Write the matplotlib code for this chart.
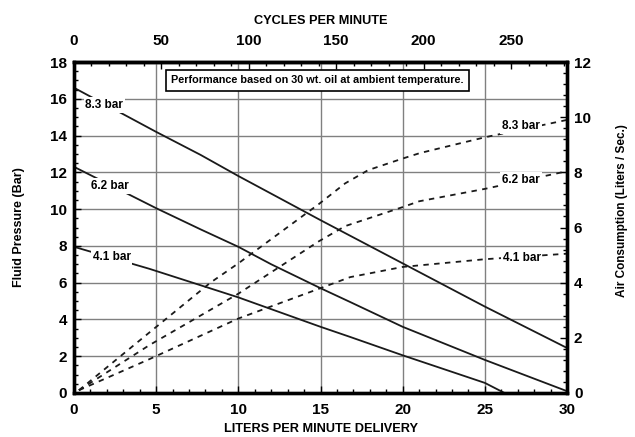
import matplotlib
matplotlib.use("Agg")
import matplotlib.pyplot as plt
from matplotlib.ticker import MultipleLocator

plt.rcParams['font.family'] = ['Liberation Sans Narrow', 'Liberation Sans', 'DejaVu Sans']
plt.rcParams['font.weight'] = 'bold'
plt.rcParams['axes.labelweight'] = 'bold'

# ---- data ----
# Fluid pressure (bar) vs delivery (L/min)
lpm_p83 = [0, 5, 7.7, 10, 15, 20, 25, 30]
pres_83 = [16.6, 14.2, 12.95, 11.8, 9.4, 7.05, 4.7, 2.45]
lpm_p62 = [0, 5, 7.7, 10, 12, 15, 16.8, 20, 25, 30]
pres_62 = [12.3, 10.05, 8.9, 7.95, 7.0, 5.7, 4.95, 3.6, 1.8, 0.1]
lpm_p41 = [0, 4.6, 10, 15, 16.8, 20, 25, 26.2]
pres_41 = [7.95, 6.75, 5.2, 3.6, 3.05, 2.05, 0.55, 0.0]

# Air consumption (L/s) vs delivery (L/min)
lpm_a83 = [0.3, 4.6, 8.3, 10, 14.9, 16.5, 17.9, 20, 21.06, 25, 30]
air_83 = [0.1, 2.2, 4.0, 4.7, 6.85, 7.6, 8.08, 8.5, 8.7, 9.27, 9.9]
lpm_a62 = [0.3, 4.6, 10, 14.9, 16.5, 20, 21, 25, 30]
air_62 = [0.1, 1.74, 3.6, 5.5, 6.05, 6.74, 6.95, 7.4, 8.04]
lpm_a41 = [0.3, 4.6, 10, 15, 16.8, 20, 25, 30]
air_41 = [0.1, 1.23, 2.7, 3.8, 4.2, 4.57, 4.85, 5.05]

series_labels = ["8.3 bar", "6.2 bar", "4.1 bar"]
left_label_pos = [(1.85, 15.66), (2.2, 11.25), (2.3, 7.4)]
right_label_pos = [(27.2, 9.67), (27.2, 7.72), (27.25, 4.89)]

cycles_per_lpm = 9.4
cycle_ticks = [0, 50, 100, 150, 200, 250]
lpm_ticks = [0, 5, 10, 15, 20, 25, 30]
pres_ticks = [0, 2, 4, 6, 8, 10, 12, 14, 16, 18]
air_ticks = [0, 2, 4, 6, 8, 10, 12]
note = "Performance based on 30 wt. oil at ambient temperature."

# ---- figure ----
fig = plt.figure(figsize=(6.35, 4.37), dpi=100)
ax = fig.add_axes([74/635, 1-393/437, 493/635, 331/437])
ax.set_xlim(0, 30)
ax.set_ylim(0, 18)
ax.set_xticks(lpm_ticks)
ax.set_yticks(pres_ticks)
ax.xaxis.set_minor_locator(MultipleLocator(1))
ax.yaxis.set_minor_locator(MultipleLocator(0.5))
ax.grid(True, which='major', color='#808080', linewidth=1.0)
ax.set_axisbelow(True)

lw_spine = 2.4
for s in ax.spines.values():
    s.set_linewidth(lw_spine)
ax.tick_params(which='both', direction='in', top=False, right=False,
               labelsize=11, width=1.0)
ax.tick_params(which='major', length=5, pad=5)
ax.tick_params(axis='x', which='major', pad=7)
ax.tick_params(which='minor', length=3)

lc = '#1a1a1a'
for xs, ys in [(lpm_p83, pres_83), (lpm_p62, pres_62), (lpm_p41, pres_41)]:
    ax.plot(xs, ys, color=lc, linewidth=1.3, solid_joinstyle='round')

for lab, (x, y) in zip(series_labels, left_label_pos):
    ax.text(x, y, lab, fontsize=8.5, ha='center', va='center', zorder=5,
            bbox=dict(facecolor='white', edgecolor='none', pad=1.2))

ax.text(14.8, 17.0, note, fontsize=7.8, ha='center', va='center', zorder=6,
        bbox=dict(facecolor='white', edgecolor='black', linewidth=1.2, boxstyle='square,pad=0.5'))

ax.set_xlabel("LITERS PER MINUTE DELIVERY", fontsize=9.2)
ax.xaxis.set_label_coords(0.5, -0.092)
ax.set_ylabel("Fluid Pressure (Bar)", fontsize=9.0)
ax.yaxis.set_label_coords(-0.1, 0.5)

# right axis
ax2 = ax.twinx()
ax2.set_ylim(0, 12)
ax2.set_yticks(air_ticks)
ax2.yaxis.set_minor_locator(MultipleLocator(0.4))
for s in ax2.spines.values():
    s.set_linewidth(lw_spine)
ax2.tick_params(which='both', direction='in', labelsize=11, width=1.0)
ax2.tick_params(which='major', length=5, pad=5)
ax2.tick_params(which='minor', length=3)
for xs, ys in [(lpm_a83, air_83), (lpm_a62, air_62), (lpm_a41, air_41)]:
    ax2.plot(xs, ys, color=lc, linewidth=1.3, linestyle=(0, (3, 3)))
for lab, (x, y) in zip(series_labels, right_label_pos):
    ax2.text(x, y, lab, fontsize=8.5, ha='center', va='center', zorder=5,
             bbox=dict(facecolor='white', edgecolor='none', pad=1.2))
ax2.set_ylabel("Air Consumption (Liters / Sec.)", fontsize=8.5, rotation=90)
ax2.yaxis.set_label_coords(1.1, 0.55)

# top axis: cycles per minute
sec = ax.secondary_xaxis('top', functions=(lambda x: x * cycles_per_lpm,
                                           lambda c: c / cycles_per_lpm))
sec.set_xticks(cycle_ticks)
sec.xaxis.set_minor_locator(MultipleLocator(10))
sec.tick_params(which='both', direction='in', labelsize=11, width=1.0)
sec.tick_params(which='major', length=5, pad=10)
sec.tick_params(which='minor', length=3)
sec.spines['top'].set_linewidth(lw_spine)
sec.set_xlabel("CYCLES PER MINUTE", fontsize=9.2, labelpad=7)

fig.savefig("out.png", dpi=100)
